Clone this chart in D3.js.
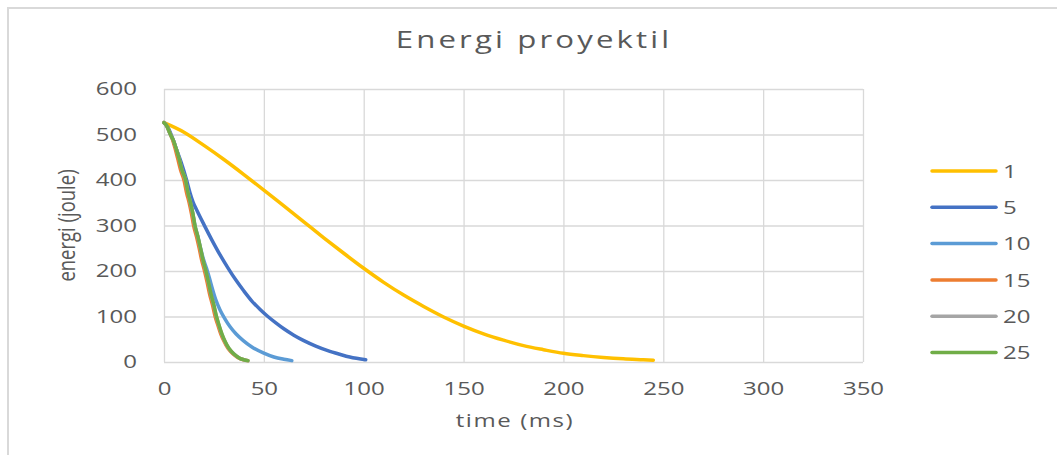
<!DOCTYPE html>
<html lang="en">
<head>
<meta charset="UTF-8">
<title>Energi proyektil</title>
<style>
    body { margin: 0; background: #fff; }
    text { font-family: "Open Sans", sans-serif; fill: #595959; }
</style>
</head>
<body>
<script src="https://cdn.jsdelivr.net/npm/d3@7"></script>
<script>

    // series names (legend) and their colours
    var seriesNames = ["1", "5", "10", "15", "20", "25"];
    var seriesColors = ["#FFC000", "#4472C4", "#5B9BD5", "#ED7D31", "#A5A5A5", "#70AD47"];

    // time (ms) / energy (joule) per series
    var t1 = [0, 10, 20, 30, 40, 50, 60, 70, 80, 90, 100, 110, 120, 130, 140, 150, 160, 170, 180, 190, 200, 210, 220, 230, 240, 245];
    var e1 = [526, 505, 476, 445, 412, 378, 343, 308, 273, 239, 206, 175, 147, 122, 99, 79, 62, 48, 36, 27, 19, 14, 10, 7, 5, 4];

    var t5 = [0, 2, 4, 6, 8.5, 11.3, 13, 14.5, 16.5, 20, 24, 28, 32, 36, 40, 44, 48, 52, 56, 60, 65, 70, 76, 82, 88, 93, 101];
    var e5 = [526, 515, 495, 470, 440, 400, 372, 352, 333, 302, 268, 236, 207, 180, 156, 134, 116, 100, 86, 73, 59, 47, 35, 25, 17, 11, 5];

    var t10 = [0, 1.5, 3, 4.6, 6, 7.5, 9, 10.8, 12, 13.3, 14.5, 15.5, 17, 18.3, 19.8, 21.2, 22.7, 24.3, 26, 28, 30.5, 33, 36, 39.7, 44, 49.7, 55, 60, 64];
    var e10 = [526, 518, 502, 488, 470, 448, 422, 400, 372, 350, 325, 300, 275, 250, 225, 207, 185, 160, 136, 115, 95, 78, 62, 47, 33, 20, 11, 6, 3];

    var t15 = [0, 1.5, 3, 4.3, 5.5, 6.8, 8.3, 10, 11.3, 12.6, 13.8, 14.8, 16.3, 17.6, 18.8, 20.3, 21.6, 22.8, 24.3, 25.6, 26.9, 28.4, 30, 32, 33.6, 35.6, 37.8, 39.8, 42];
    var e15 = [526, 518, 502, 488, 470, 448, 422, 400, 372, 350, 325, 300, 275, 250, 225, 200, 175, 150, 125, 100, 82, 62, 46, 30, 22, 14, 8, 5, 3];

    var t20 = [0, 1.5, 3, 4.6, 6, 7.5, 9, 10.7, 12, 13.2, 14.4, 15.4, 16.9, 18.2, 19.4, 20.9, 22.2, 23.4, 24.9, 26.2, 27.4, 28.9, 30.4, 32.4, 34, 36, 38, 40, 42];
    var e20 = [526, 518, 502, 488, 470, 448, 422, 400, 372, 350, 325, 300, 275, 250, 225, 200, 175, 150, 125, 100, 82, 62, 46, 30, 22, 14, 8, 5, 3];

    var t25 = [0, 1.5, 3, 4.6, 6, 7.5, 9, 10.8, 12, 13.3, 14.5, 15.5, 17, 18.3, 19.5, 21, 22.3, 23.5, 25, 26.3, 27.5, 29, 30.5, 32.5, 34, 36, 38, 40, 42];
    var e25 = [526, 518, 502, 488, 470, 448, 422, 400, 372, 350, 325, 300, 275, 250, 225, 200, 175, 150, 125, 100, 82, 62, 46, 30, 22, 14, 8, 5, 3];

    var xTicks = [0, 50, 100, 150, 200, 250, 300, 350];
    var yTicks = [0, 100, 200, 300, 400, 500, 600];

    var times = [t1, t5, t10, t15, t20, t25];
    var energies = [e1, e5, e10, e15, e20, e25];

    var series = seriesNames.map(function (name, i) {
        return {
            name: name,
            color: seriesColors[i],
            values: times[i].map(function (t, j) { return { t: t, e: energies[i][j] }; })
        };
    });

    var width = 1057, height = 455;
    var stretch = 1.3;   // the original picture is wider than tall, text included

    var svg = d3.select("body").append("svg")
        .attr("width", width)
        .attr("height", height);

    // chart border (only top and left are in view)
    svg.append("rect")
        .attr("x", 8).attr("y", 8)
        .attr("width", width + 20).attr("height", height + 20)
        .attr("fill", "none")
        .attr("stroke", "#d9d9d9")
        .attr("stroke-width", 2);

    var x = d3.scaleLinear().domain([0, 350]).range([164, 863]);
    var y = d3.scaleLinear().domain([0, 600]).range([362, 89]);

    //grid
    var gGrid = svg.append("g");
    gGrid.append("g")
        .attr("transform", "translate(0," + y(0) + ")")
        .call(d3.axisBottom(x).tickValues(xTicks).tickSize(-(y(0) - y(600))).tickFormat(""));
    gGrid.append("g")
        .attr("transform", "translate(" + x(0) + ",0)")
        .call(d3.axisLeft(y).tickValues(yTicks).tickSize(-(x(350) - x(0))).tickFormat(""));
    gGrid.selectAll(".domain").remove();
    gGrid.selectAll("line").attr("stroke", "#d9d9d9").attr("stroke-width", 1.3);

    //Axis labels
    var gAxis = svg.append("g");
    gAxis.append("g")
        .attr("transform", "translate(0," + y(0) + ")")
        .call(d3.axisBottom(x).tickValues(xTicks).tickSize(0).tickPadding(20));
    gAxis.append("g")
        .attr("transform", "translate(" + x(0) + ",0)")
        .call(d3.axisLeft(y).tickValues(yTicks).tickSize(0).tickPadding(27 / stretch));
    gAxis.selectAll(".domain").remove();
    gAxis.selectAll("text")
        .attr("fill", "#595959")
        .style("font-family", "'Open Sans', sans-serif")
        .style("font-size", "18.5px")
        .attr("transform", "scale(" + stretch + ",1)");

    // titles
    svg.append("g")
        .attr("transform", "translate(534,48) scale(" + stretch + ",1)")
        .append("text")
        .attr("text-anchor", "middle")
        .style("font-size", "24px")
        .style("letter-spacing", "2.4px")
        .text("Energi proyektil");

    svg.append("g")
        .attr("transform", "translate(515,427) scale(" + stretch + ",1)")
        .append("text")
        .attr("text-anchor", "middle")
        .style("font-size", "18.5px")
        .style("letter-spacing", "1.2px")
        .text("time (ms)");

    svg.append("g")
        .attr("transform", "translate(75,225.5) scale(" + stretch + ",1) rotate(-90)")
        .append("text")
        .attr("text-anchor", "middle")
        .style("font-size", "18.5px")
        .text("energi (joule)");

    //Lines
    var line = d3.line()
        .curve(d3.curveMonotoneX)
        .x(function (d) { return x(d.t); })
        .y(function (d) { return y(d.e); });

    svg.append("g").selectAll("path")
        .data(series)
        .enter()
        .append("path")
        .attr("d", function (d) { return line(d.values); })
        .attr("fill", "none")
        .attr("stroke", function (d) { return d.color; })
        .attr("stroke-width", 3.5)
        .attr("stroke-linejoin", "round")
        .attr("stroke-linecap", "round");

    //Legend
    var legend = svg.append("g").selectAll("g")
        .data(series)
        .enter()
        .append("g")
        .attr("transform", function (d, i) { return "translate(0," + (171 + i * 36.3) + ")"; });

    legend.append("line")
        .attr("x1", 932).attr("x2", 996)
        .attr("stroke", function (d) { return d.color; })
        .attr("stroke-width", 3.5)
        .attr("stroke-linecap", "round");

    legend.append("g")
        .attr("transform", "translate(1003,0) scale(" + stretch + ",1)")
        .append("text")
        .attr("dy", "0.36em")
        .style("font-size", "18.5px")
        .text(function (d) { return d.name; });

</script>
</body>
</html>
